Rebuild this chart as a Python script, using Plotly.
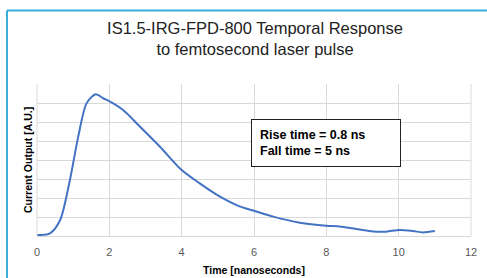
import plotly.graph_objects as go

time_ns = [0.0, 0.36, 0.64, 0.91, 1.14, 1.37, 1.62, 1.83, 2.02, 2.38, 2.85, 3.40, 4.0, 4.5, 5.06, 5.6, 6.0, 6.53, 7.27, 8.0, 8.37, 8.83, 9.38, 9.66, 10.03, 10.4, 10.67, 11.0]
output_au = [0.05, 0.14, 0.84, 2.95, 5.23, 6.98, 7.46, 7.25, 7.07, 6.63, 5.75, 4.70, 3.47, 2.77, 2.07, 1.56, 1.33, 1.02, 0.70, 0.54, 0.50, 0.37, 0.23, 0.23, 0.32, 0.26, 0.19, 0.26]
x_ticks = [0, 2, 4, 6, 8, 10, 12]

W, H = 487, 278
L, R, T, B = 37, 16, 84, 42
pw, ph = W - L - R, H - T - B

def px(x):
    return (x - L) / pw

def py(y):
    return (H - B - y) / ph

fig = go.Figure()
fig.add_trace(go.Scatter(x=time_ns, y=output_au, mode="lines", line=dict(color="#4472C4", width=2, shape="spline", smoothing=0.8), showlegend=False, hoverinfo="skip"))

border_color = "#3AAEE0"
fig.add_shape(type="line", xref="paper", yref="paper", x0=px(7), x1=px(W + 5), y0=py(10.5), y1=py(10.5), line=dict(color=border_color, width=2))
fig.add_shape(type="line", xref="paper", yref="paper", x0=px(7), x1=px(7), y0=py(10.5), y1=py(H + 5), line=dict(color=border_color, width=2))

fig.add_annotation(xref="paper", yref="paper", x=px(326), y=py(143), text="<b>Rise time = 0.8 ns</b><br><b>Fall time = 5 ns</b>", showarrow=False, align="left", font=dict(family="Liberation Sans", size=12.5, color="black"), bordercolor="#222222", borderwidth=1, borderpad=8, bgcolor="white", width=132, xanchor="center", yanchor="middle")

axis_font = dict(family="Liberation Sans", size=10.5, color="black")
fig.add_annotation(xref="paper", yref="paper", x=px(254), y=py(270), text="<b>Time [nanoseconds]</b>", showarrow=False, font=axis_font, xanchor="center", yanchor="middle")
fig.add_annotation(xref="paper", yref="paper", x=px(28), y=py(160), text="<b>Current Output [A.U.]</b>", showarrow=False, font=axis_font, textangle=-90, xanchor="center", yanchor="middle")

fig.update_layout(
    width=W, height=H,
    margin=dict(l=L, r=R, t=T, b=B),
    paper_bgcolor="white", plot_bgcolor="white",
    title=dict(text="IS1.5-IRG-FPD-800 Temporal Response<br>to femtosecond laser pulse", xref="container", yref="container", x=255 / W, xanchor="center", y=1 - 34 / H, yanchor="middle", font=dict(family="Liberation Sans", size=16.5, color="#222222")),
    xaxis=dict(range=[0, 12], tickvals=x_ticks, automargin=False, showgrid=True, gridcolor="#D9D9D9", gridwidth=1, zeroline=False, showline=True, linecolor="#D9D9D9", mirror=False, ticks="", ticklabelstandoff=6, tickfont=dict(family="Liberation Sans", size=11, color="#595959")),
    yaxis=dict(range=[0, 8], dtick=1, automargin=False, showgrid=True, gridcolor="#D9D9D9", gridwidth=1, zeroline=False, showline=False, showticklabels=False, ticks=""),
)
fig.add_shape(type="line", xref="paper", yref="paper", x0=1, x1=1, y0=0, y1=1, line=dict(color="#D9D9D9", width=1))
fig.add_shape(type="line", xref="paper", yref="paper", x0=0, x1=0, y0=0, y1=1, line=dict(color="#D9D9D9", width=1))

fig.write_html("out.html", config={"displayModeBar": False}, post_script="document.body.style.margin='0';document.body.style.overflow='hidden';")
